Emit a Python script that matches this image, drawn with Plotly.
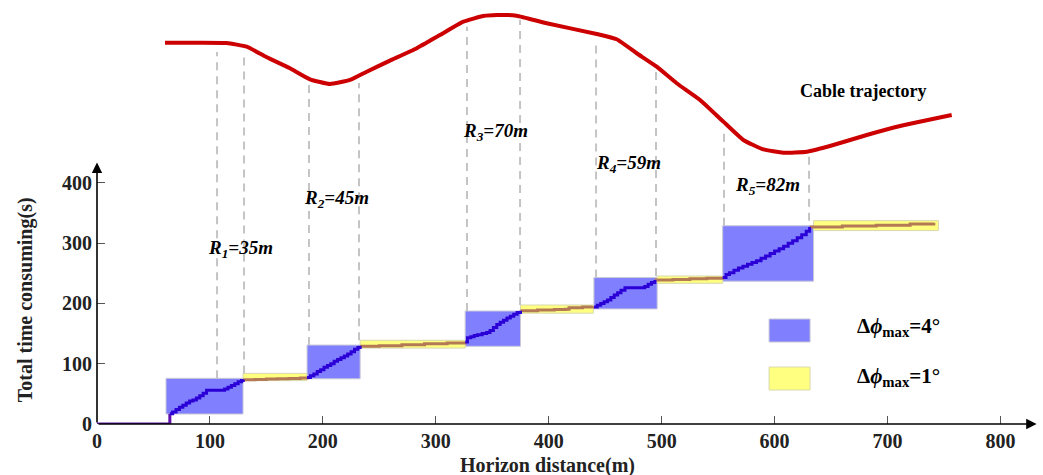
import plotly.graph_objects as go

# ---------------- data ----------------
# cable trajectory (drawn in the space above the time axis)
cable_x = [60.2, 90.0, 114.8, 132.6, 150.3, 170.9, 188.6, 206.3, 224.0, 238.8, 259.4, 283.1, 303.7,
           324.4, 342.1, 353.9, 371.6, 398.2, 442.5, 460.2, 477.9, 495.6, 513.3, 534.0, 554.6,
           572.3, 590.0, 607.7, 628.4, 652.0, 681.6, 711.1, 756.8]
cable_y = [632.9, 632.9, 632.4, 626.2, 608.6, 590.4, 572.1, 564.3, 571.0, 584.7, 603.0, 623.6, 645.6,
           667.7, 677.2, 678.8, 677.7, 665.1, 647.3, 638.5, 615.3, 593.0, 565.5, 537.8, 501.8,
           471.4, 455.9, 450.3, 452.0, 463.1, 479.7, 494.6, 512.9]

# initial straight section
start_x = [0, 64.5]
start_y = [0, 17]

# bend sections (delta phi max = 4 deg)
bend_x = [
    [64.5, 67, 70, 73, 76, 79, 82, 85, 88, 91, 94, 97, 113, 116, 119, 122, 125, 128, 129.5],
    [186, 189, 192, 195, 198, 201, 204, 207, 210, 213, 216, 219, 222, 225, 228, 231, 233],
    [326, 328, 331, 334, 337, 341, 345, 348, 351, 354, 357, 360, 363, 366, 369, 372, 375],
    [440, 443, 446, 449, 452, 455, 458, 461, 464, 467.5, 485, 488, 491, 494],
    [554, 557, 560, 564, 568, 572, 576, 580, 584, 588, 592, 596, 600, 604, 608, 612, 616,
     620, 624, 628, 631],
]
bend_y = [
    [17, 20, 24, 28, 31, 35, 38, 40, 43, 47, 51, 56, 58, 61, 64, 67, 70, 72, 74],
    [77, 80, 83, 87, 90, 94, 97, 100, 104, 107, 110, 113, 116, 120, 124, 127, 130],
    [136, 143, 145, 147, 148, 150, 152, 155, 160, 165, 169, 172, 176, 179, 182, 185, 188],
    [194, 197, 200, 203, 206, 210, 214, 218, 222, 226, 228, 232, 235, 239],
    [243, 248, 251, 255, 259, 262, 265, 268, 271, 275, 279, 283, 287, 291, 295, 300, 304,
     309, 314, 320, 327],
]

# straight sections (delta phi max = 1 deg)
straight_x = [
    [129.5, 140, 150, 160, 170, 180, 186],
    [233, 250, 270, 290, 310, 326],
    [375, 390, 405, 415, 418, 430, 439],
    [494, 510, 525, 540, 554],
    [631, 660, 690, 720, 741],
]
straight_y = [
    [73.5, 74, 74.5, 75, 75.5, 76.5, 77],
    [129, 130, 131.5, 133, 134.5, 136],
    [188, 189, 190, 190.5, 193, 194, 195],
    [239, 240, 241, 242, 243],
    [327, 328.5, 330, 332, 334],
]

# region boxes
blue_x0 = [61.1, 186.0, 326.0, 440.0, 554.0]
blue_x1 = [129.3, 233.0, 375.0, 496.0, 634.5]
blue_y0 = [16.6, 75.0, 129.0, 191.0, 237.0]
blue_y1 = [75.8, 131.0, 187.5, 243.0, 329.0]

yel_x0 = [129.3, 233.0, 375.0, 496.0, 634.5]
yel_x1 = [185.7, 326.0, 439.5, 554.0, 745.0]
yel_y0 = [72.0, 126.0, 184.0, 233.5, 321.0]
yel_y1 = [84.0, 139.0, 197.5, 245.6, 337.5]

# dashed guide lines
guide_x = [106.3, 130.2, 187.7, 232.0, 327.6, 374.6, 441.9, 495.0, 555.2, 630.5]
guide_top = [617.4, 617.4, 565.9, 565.9, 659.3, 670.9, 637.3, 592.4, 488.0, 451.5]
guide_bot = [76.0, 84.0, 131.0, 139.0, 187.5, 197.5, 243.0, 245.6, 329.0, 337.5]

# radius labels
radius_names = ["1", "2", "3", "4", "5"]
radius_vals = ["35m", "45m", "70m", "59m", "82m"]
radius_lx = [127.5, 212.5, 353.0, 470.5, 594.0]
radius_ly = [290.5, 373.4, 484.6, 431.5, 395.0]

x_ticks = [0, 100, 200, 300, 400, 500, 600, 700, 800]
y_ticks = [0, 100, 200, 300, 400]

# ---------------- figure ----------------
BLUE_LINE = "#2a00d6"
BROWN_LINE = "#b47a55"
SERIF = "Liberation Serif"

fig = go.Figure()

shapes = []
for x0, x1, y0, y1 in zip(blue_x0, blue_x1, blue_y0, blue_y1):
    shapes.append(dict(type="rect", xref="x", yref="y", x0=x0, x1=x1, y0=y0, y1=y1,
                       fillcolor="#8080ff", line=dict(color="#c8c8d8", width=1), layer="below"))
for x0, x1, y0, y1 in zip(yel_x0, yel_x1, yel_y0, yel_y1):
    shapes.append(dict(type="rect", xref="x", yref="y", x0=x0, x1=x1, y0=y0, y1=y1,
                       fillcolor="#ffff80", line=dict(color="#d8d8b0", width=1), layer="below"))
for gx, gt, gb in zip(guide_x, guide_top, guide_bot):
    shapes.append(dict(type="line", xref="x", yref="y", x0=gx, x1=gx, y0=gb, y1=gt,
                       line=dict(color="#c4c4c4", width=2, dash="8px,6px"), layer="below"))

# legend swatches
shapes.append(dict(type="rect", xref="x", yref="y", x0=595.1, x1=631.4, y0=136.1, y1=174.3,
                   fillcolor="#8080ff", line=dict(color="#c8c8d8", width=1)))
shapes.append(dict(type="rect", xref="x", yref="y", x0=595.1, x1=631.4, y0=56.4, y1=94.6,
                   fillcolor="#ffff80", line=dict(color="#d8d8b0", width=1)))

fig.add_trace(go.Scatter(x=cable_x, y=cable_y, mode="lines",
                         line=dict(color="#cc0000", width=4, shape="spline", smoothing=0.4),
                         showlegend=False, hoverinfo="skip", cliponaxis=False))

fig.add_trace(go.Scatter(x=start_x, y=start_y, mode="lines",
                         line=dict(color="#6010a8", width=3, shape="hv"),
                         showlegend=False, cliponaxis=False))
for sx, sy in zip(straight_x, straight_y):
    fig.add_trace(go.Scatter(x=sx, y=sy, mode="lines", line=dict(color=BROWN_LINE, width=3, shape="hv"),
                             showlegend=False))
for bx, by in zip(bend_x, bend_y):
    fig.add_trace(go.Scatter(x=bx, y=by, mode="lines", line=dict(color=BLUE_LINE, width=3, shape="hv"),
                             showlegend=False))

annotations = []
# axis arrows
annotations.append(dict(x=832, y=0, ax=0, ay=0, xref="x", yref="y", axref="x", ayref="y",
                        showarrow=True, arrowhead=2, arrowsize=1.3, arrowwidth=1.6,
                        arrowcolor="black", text=""))
annotations.append(dict(x=0, y=434, ax=0, ay=0, xref="x", yref="y", axref="x", ayref="y",
                        showarrow=True, arrowhead=2, arrowsize=1.3, arrowwidth=1.6,
                        arrowcolor="black", text=""))

for n, v, lx, ly in zip(radius_names, radius_vals, radius_lx, radius_ly):
    annotations.append(dict(x=lx, y=ly, xref="x", yref="y", showarrow=False,
                            text=f"<i>R</i><sub><i>{n}</i></sub><i>={v}</i>",
                            font=dict(family=SERIF, size=19, color="black", weight="bold")))

annotations.append(dict(x=678.6, y=553.2, xref="x", yref="y", showarrow=False,
                        text="Cable trajectory",
                        font=dict(family=SERIF, size=18, color="black", weight="bold")))

annotations.append(dict(x=671.2, y=161, xref="x", yref="y", showarrow=False, xanchor="left",
                        text="Δ<i>ϕ</i><sub>max</sub>=4°",
                        font=dict(family=SERIF, size=21, color="black", weight="bold")))
annotations.append(dict(x=671.2, y=78, xref="x", yref="y", showarrow=False, xanchor="left",
                        text="Δ<i>ϕ</i><sub>max</sub>=1°",
                        font=dict(family=SERIF, size=21, color="black", weight="bold")))

annotations.append(dict(x=0.478, y=-0.0967, xref="paper", yref="paper", showarrow=False,
                        xanchor="center", yanchor="middle",
                        text="Horizon distance(m)",
                        font=dict(family=SERIF, size=20, color="#222", weight="bold")))
annotations.append(dict(x=-0.0763, y=0.292, xref="paper", yref="paper", showarrow=False,
                        xanchor="center", yanchor="middle",
                        text="Total time consuming(s)", textangle=-90,
                        font=dict(family=SERIF, size=20, color="#222", weight="bold")))

fig.update_layout(
    width=1043, height=475,
    margin=dict(l=97, r=3, t=0, b=51),
    plot_bgcolor="white", paper_bgcolor="white",
    shapes=shapes, annotations=annotations,
    showlegend=False,
    xaxis=dict(range=[0, 835], tickvals=x_ticks, ticktext=[str(t) for t in x_ticks],
               ticks="inside", ticklen=8, tickcolor="#555", tickwidth=1,
               ticklabelstandoff=3,
               showgrid=False, zeroline=False, showline=False,
               tickfont=dict(family=SERIF, size=20, color="#222", weight="bold")),
    yaxis=dict(range=[0, 703.7], tickvals=y_ticks, ticktext=[str(t) for t in y_ticks],
               ticks="inside", ticklen=8, tickcolor="#555", tickwidth=1,
               ticklabelstandoff=4,
               showgrid=False, zeroline=False, showline=False,
               tickfont=dict(family=SERIF, size=20, color="#222", weight="bold")),
)

fig.write_html("out.html")
